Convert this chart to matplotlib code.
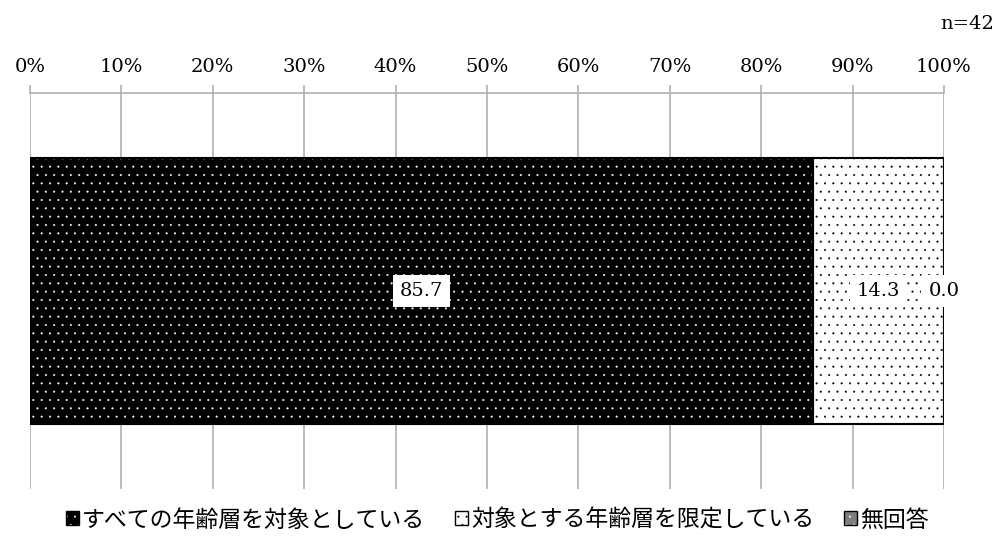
import matplotlib
matplotlib.use("Agg")
import matplotlib.pyplot as plt
from matplotlib.patches import Patch

plt.rcParams['font.family'] = ['Noto Sans CJK JP', 'DejaVu Sans']
plt.rcParams['hatch.linewidth'] = 0.25

categories = ["すべての年齢層を対象としている", "対象とする年齢層を限定している", "無回答"]
values = [85.7, 14.3, 0.0]
tick_labels = ["0%", "10%", "20%", "30%", "40%", "50%", "60%", "70%", "80%", "90%", "100%"]
sample_note = "n=42"

faces = ["black", "white", "#7f7f7f"]
hatch_colors = ["white", "black", "white"]

fig = plt.figure(figsize=(9.95, 5.4), dpi=100)
ax = fig.add_axes([30 / 995, 1 - 489 / 540, 914 / 995, 396 / 540])

left = 0.0
for cat, val, fc, hc in zip(categories, values, faces, hatch_colors):
    # hatched fill (hatch colour follows edgecolor), then a black outline
    ax.barh(0, val, left=left, height=0.67, color=fc, edgecolor=hc,
            hatch="..", linewidth=0, zorder=2)
    ax.barh(0, val, left=left, height=0.67, fill=False, edgecolor="black",
            linewidth=1.5, zorder=3)
    left += val

# value labels
left = 0.0
for val in values:
    ax.text(left + val / 2, 0, f"{val:.1f}", ha="center", va="center",
            family="DejaVu Serif", fontsize=14, zorder=5,
            bbox=dict(facecolor="white", edgecolor="none", pad=5))
    left += val

ax.set_xlim(0, 100)
ax.set_ylim(-0.5, 0.5)
ax.set_xticks(range(0, 101, 10))
ax.set_xticklabels(tick_labels, family="DejaVu Serif", fontsize=14)
ax.xaxis.tick_top()
ax.tick_params(axis="x", length=6, color="#b0b0b0", width=1.2, pad=6)
ax.set_yticks([])
ax.grid(axis="x", color="#b0b0b0", linewidth=1.2, zorder=0)
ax.set_axisbelow(True)
for side in ["left", "right", "bottom"]:
    ax.spines[side].set_visible(False)
ax.spines["top"].set_color("#b0b0b0")
ax.spines["top"].set_linewidth(1.2)

fig.text(0.999, 1 - 24 / 540, sample_note, ha="right", va="center",
         family="DejaVu Serif", fontsize=14)

handles = [
    (Patch(facecolor=fc, edgecolor=hc, hatch="..", linewidth=0),
     Patch(fill=False, edgecolor="black", linewidth=1.0))
    for fc, hc in zip(faces, hatch_colors)
]
fig.legend(handles, categories, loc="center", bbox_to_anchor=(0.5, 1 - 520 / 540),
           ncol=3, frameon=False, fontsize=16.5, handlelength=0.55,
           handleheight=0.55, handletextpad=0.15, columnspacing=1.3)

fig.savefig("out.png", dpi=100)
